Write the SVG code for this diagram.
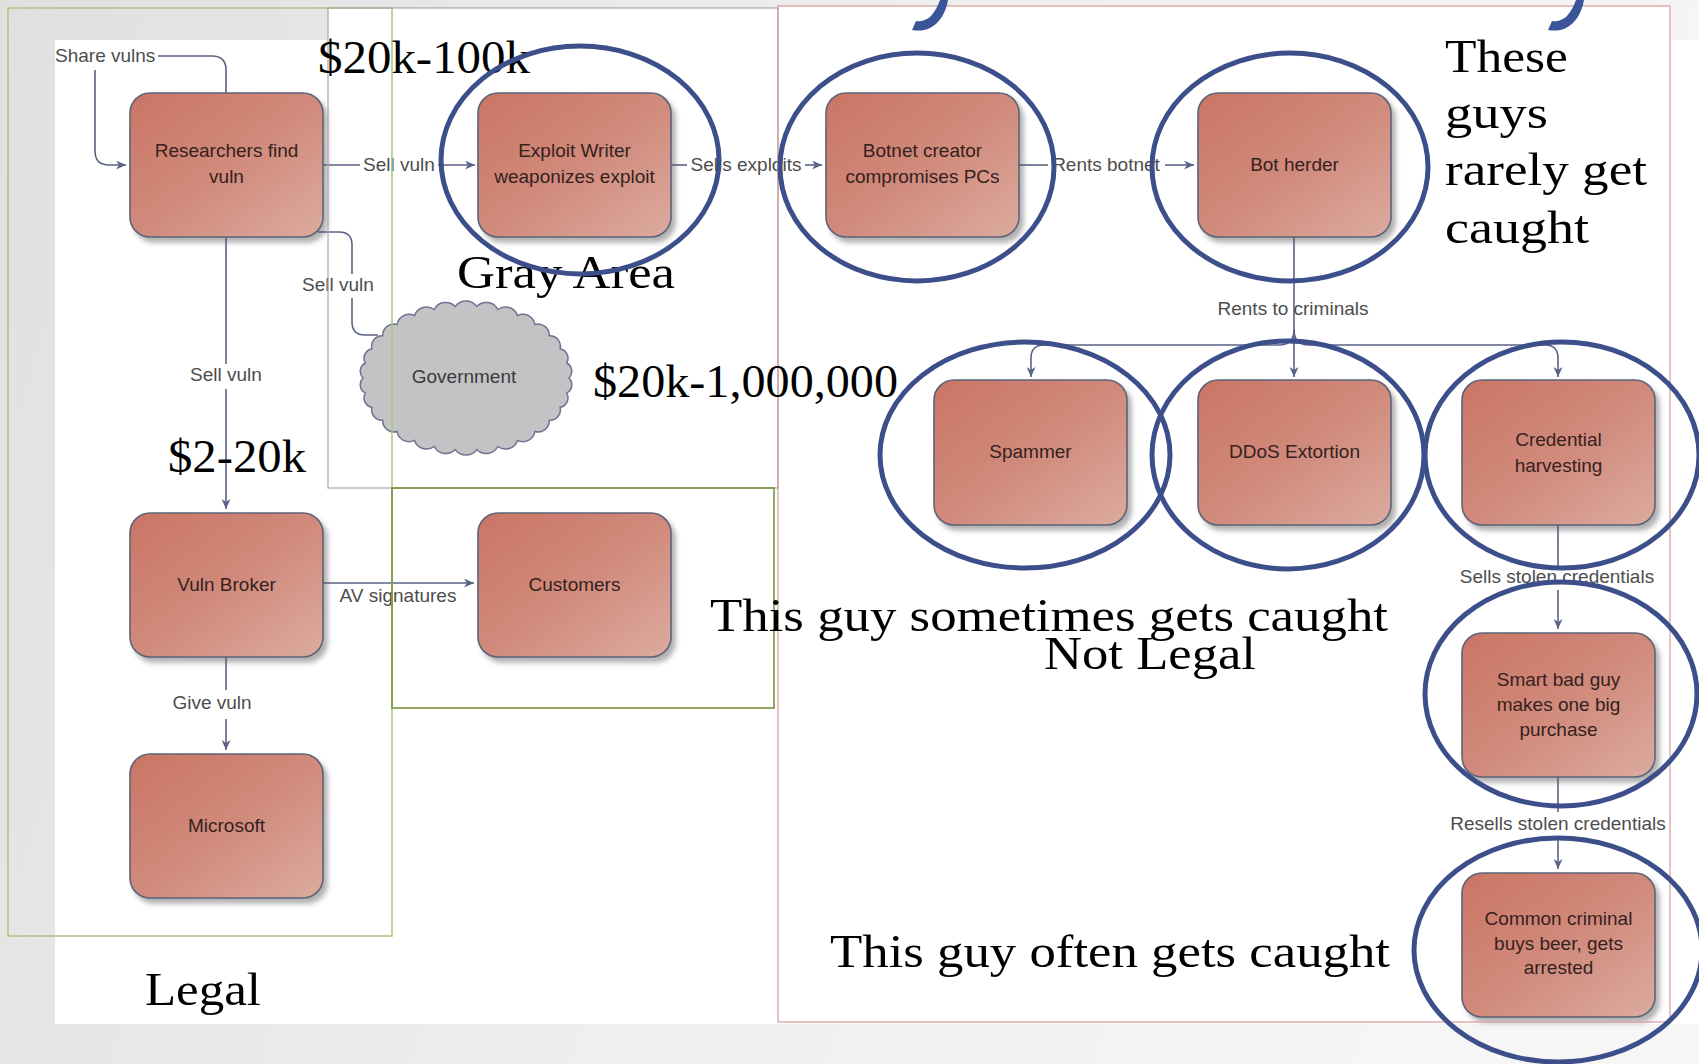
<svg xmlns="http://www.w3.org/2000/svg" width="1699" height="1064" viewBox="0 0 1699 1064">
<defs>
<linearGradient id="bg" x1="0" y1="0" x2="1" y2="0.2">
<stop offset="0" stop-color="#e0e0e0"/>
<stop offset="0.5" stop-color="#eeeeee"/>
<stop offset="1" stop-color="#f6f6f6"/>
</linearGradient>
<linearGradient id="ng" x1="0" y1="0" x2="1" y2="1">
<stop offset="0" stop-color="#ca7564"/>
<stop offset="0.5" stop-color="#d08a7b"/>
<stop offset="1" stop-color="#dcab9f"/>
</linearGradient>
<filter id="sh" x="-10%" y="-10%" width="130%" height="130%">
<feDropShadow dx="4" dy="5" stdDeviation="2.5" flood-color="#555" flood-opacity="0.45"/>
</filter>
<marker id="ar" viewBox="0 0 10 9" refX="10" refY="4.5" markerWidth="10" markerHeight="9" markerUnits="userSpaceOnUse" orient="auto">
<path d="M0,0 L10,4.5 L0,9 L3,4.5 Z" fill="#5b6385"/>
</marker>
<path id="hook" d="M 940 0 L 948 0 C 946 12, 940 23, 930 28 C 924 31, 918 31, 912 30 L 916 21 C 921 22, 927 20, 931 16 C 935 11, 938 6, 940 0 Z"/>
</defs>
<style>
.node rect{fill:url(#ng);stroke:#5e6378;stroke-width:1.6;filter:url(#sh)}
.nt{font-family:"Liberation Sans",Arial,sans-serif;font-size:19px;fill:#36211e;text-anchor:middle}
.el{font-family:"Liberation Sans",Arial,sans-serif;font-size:19px;fill:#4d4d4d}
.c{stroke:#5b6385;stroke-width:1.6;fill:none}
.a{marker-end:url(#ar)}
.big{font-family:"Liberation Serif","Times New Roman",serif;font-size:47px;fill:#000}
.oval{fill:none;stroke:#3d4f8a;stroke-width:5}
.reg{fill:none}
</style>

<rect x="0" y="0" width="1699" height="1064" fill="url(#bg)"/>
<rect x="55" y="40" width="1644" height="984" fill="#fff"/>
<rect x="328" y="8" width="450" height="40" fill="#fff"/>
<rect x="778" y="6" width="892" height="40" fill="#fff"/>

<g id="connectors">
<path class="c" d="M 158 56 H 212 Q 226 56 226 70 V 93"/>
<path class="c a" d="M 95 70 V 151 Q 95 165 109 165 H 126"/>
<text class="el" x="55" y="62">Share vulns</text>

<path class="c" d="M 323 165 H 360"/>
<path class="c a" d="M 438 165 H 475"/>
<text class="el" x="399" y="171" text-anchor="middle">Sell vuln</text>

<path class="c" d="M 670 165 H 687"/>
<path class="c a" d="M 805 165 H 822"/>
<text class="el" x="746" y="171" text-anchor="middle">Sells exploits</text>

<path class="c" d="M 1019 165 H 1048"/>
<path class="c a" d="M 1165 165 H 1194"/>
<text class="el" x="1106" y="171" text-anchor="middle">Rents botnet</text>

<path class="c" d="M 318 232 H 339 Q 352 232 352 245 V 274"/>
<path class="c" d="M 352 298 V 322 Q 352 335 365 335 H 378"/>
<text class="el" x="338" y="291" text-anchor="middle">Sell vuln</text>

<path class="c" d="M 226 237 V 364"/>
<path class="c a" d="M 226 389 V 509"/>
<text class="el" x="226" y="381" text-anchor="middle">Sell vuln</text>

<path class="c" d="M 226 657 V 690"/>
<path class="c a" d="M 226 719 V 750"/>
<text class="el" x="212" y="709" text-anchor="middle">Give vuln</text>

<path class="c a" d="M 322 583 H 474"/>
<text class="el" x="398" y="602" text-anchor="middle">AV signatures</text>

<path class="c a" d="M 1294 237 V 377"/>
<path class="c a" d="M 1294 330 Q 1294 345 1279 345 H 1044 Q 1031 345 1031 358 V 377"/>
<path class="c a" d="M 1294 330 Q 1294 345 1309 345 H 1545 Q 1558 345 1558 358 V 377"/>
<text class="el" x="1293" y="315" text-anchor="middle">Rents to criminals</text>

<path class="c" d="M 1558 525 V 566"/>
<path class="c a" d="M 1558 590 V 629"/>
<text class="el" x="1557" y="583" text-anchor="middle">Sells stolen credentials</text>

<path class="c" d="M 1558 777 V 812"/>
<path class="c a" d="M 1558 836 V 869"/>
<text class="el" x="1558" y="830" text-anchor="middle">Resells stolen credentials</text>
</g>

<g id="n-researchers" class="node"><rect x="130" y="93" width="193" height="144" rx="20"/><text class="nt" x="226.5" y="157">Researchers find<tspan x="226.5" y="183">vuln</tspan></text></g>
<g id="n-exploit" class="node"><rect x="478" y="93" width="193" height="144" rx="20"/><text class="nt" x="574.5" y="157">Exploit Writer<tspan x="574.5" y="183">weaponizes exploit</tspan></text></g>
<g id="n-botnet" class="node"><rect x="826" y="93" width="193" height="144" rx="20"/><text class="nt" x="922.5" y="157">Botnet creator<tspan x="922.5" y="183">compromises PCs</tspan></text></g>
<g id="n-botherder" class="node"><rect x="1198" y="93" width="193" height="144" rx="20"/><text class="nt" x="1294.5" y="171">Bot herder</text></g>
<g id="n-government"><path d="M 569 378 A 9.4 9.4 0 0 1 566.7 393 A 9.7 9.7 0 0 1 560.1 407.3 A 10.5 10.5 0 0 1 549.3 420.3 A 11.3 11.3 0 0 1 534.9 431.5 A 12.1 12.1 0 0 1 517.5 440.4 A 12.8 12.8 0 0 1 497.8 446.5 A 13.1 13.1 0 0 1 476.8 449.6 A 13.4 13.4 0 0 1 455.2 449.6 A 13.1 13.1 0 0 1 434.2 446.5 A 12.8 12.8 0 0 1 414.5 440.4 A 12.1 12.1 0 0 1 397.1 431.5 A 11.3 11.3 0 0 1 382.7 420.3 A 10.5 10.5 0 0 1 371.9 407.3 A 9.7 9.7 0 0 1 365.3 393 A 9.4 9.4 0 0 1 363 378 A 9.4 9.4 0 0 1 365.3 363 A 9.7 9.7 0 0 1 371.9 348.7 A 10.5 10.5 0 0 1 382.7 335.7 A 11.3 11.3 0 0 1 397.1 324.5 A 12.1 12.1 0 0 1 414.5 315.6 A 12.8 12.8 0 0 1 434.2 309.5 A 13.1 13.1 0 0 1 455.2 306.4 A 13.4 13.4 0 0 1 476.8 306.4 A 13.1 13.1 0 0 1 497.8 309.5 A 12.8 12.8 0 0 1 517.5 315.6 A 12.1 12.1 0 0 1 534.9 324.5 A 11.3 11.3 0 0 1 549.3 335.7 A 10.5 10.5 0 0 1 560.1 348.7 A 9.7 9.7 0 0 1 566.7 363 A 9.4 9.4 0 0 1 569 378 Z" fill="#c3c3c6" stroke="#6e7290" stroke-width="1.5"/><text class="nt" x="464" y="383" style="fill:#3a3a3a">Government</text></g>
<g id="n-spammer" class="node"><rect x="934" y="380" width="193" height="145" rx="20"/><text class="nt" x="1030.5" y="458">Spammer</text></g>
<g id="n-ddos" class="node"><rect x="1198" y="380" width="193" height="145" rx="20"/><text class="nt" x="1294.5" y="458">DDoS Extortion</text></g>
<g id="n-cred" class="node"><rect x="1462" y="380" width="193" height="145" rx="20"/><text class="nt" x="1558.5" y="446">Credential<tspan x="1558.5" y="472">harvesting</tspan></text></g>
<g id="n-broker" class="node"><rect x="130" y="513" width="193" height="144" rx="20"/><text class="nt" x="226.5" y="591">Vuln Broker</text></g>
<g id="n-customers" class="node"><rect x="478" y="513" width="193" height="144" rx="20"/><text class="nt" x="574.5" y="591">Customers</text></g>
<g id="n-microsoft" class="node"><rect x="130" y="754" width="193" height="144" rx="20"/><text class="nt" x="226.5" y="832">Microsoft</text></g>
<g id="n-smart" class="node"><rect x="1462" y="633" width="193" height="144" rx="20"/><text class="nt" x="1558.5" y="686">Smart bad guy<tspan x="1558.5" y="711">makes one big</tspan><tspan x="1558.5" y="736">purchase</tspan></text></g>
<g id="n-common" class="node"><rect x="1462" y="873" width="193" height="144" rx="20"/><text class="nt" x="1558.5" y="925">Common criminal<tspan x="1558.5" y="950">buys beer, gets</tspan><tspan x="1558.5" y="974">arrested</tspan></text></g>

<g id="regions">
<rect class="reg" x="8" y="8" width="384" height="928" stroke="#a9c57e" stroke-width="1.5"/>
<rect class="reg" x="328" y="8" width="450" height="480" stroke="#a8a8a8" stroke-width="1.2"/>
<rect class="reg" x="392" y="488" width="382" height="220" stroke="#76923c" stroke-width="1.6"/>
<rect class="reg" x="778" y="6" width="892" height="1016" stroke="#d69c9c" stroke-width="1.2"/>
</g>

<g id="annotations">
<text class="big" x="318" y="73" textLength="212" lengthAdjust="spacingAndGlyphs">$20k-100k</text>
<text class="big" x="457" y="288" font-size="50" textLength="218" lengthAdjust="spacingAndGlyphs">Gray Area</text>
<text class="big" x="593" y="397" textLength="305" lengthAdjust="spacingAndGlyphs">$20k-1,000,000</text>
<text class="big" x="168" y="472" textLength="138" lengthAdjust="spacingAndGlyphs">$2-20k</text>
<text class="big" x="1445" y="72" font-size="51" textLength="123" lengthAdjust="spacingAndGlyphs">These</text>
<text class="big" x="1445" y="128" font-size="51" textLength="103" lengthAdjust="spacingAndGlyphs">guys</text>
<text class="big" x="1445" y="185" font-size="51" textLength="202" lengthAdjust="spacingAndGlyphs">rarely get</text>
<text class="big" x="1445" y="243" font-size="51" textLength="144" lengthAdjust="spacingAndGlyphs">caught</text>
<text class="big" x="710" y="631" textLength="678" lengthAdjust="spacingAndGlyphs">This guy sometimes gets caught</text>
<text class="big" x="1044" y="669" textLength="212" lengthAdjust="spacingAndGlyphs">Not Legal</text>
<text class="big" x="830" y="967" textLength="560" lengthAdjust="spacingAndGlyphs">This guy often gets caught</text>
<text class="big" x="145" y="1005" textLength="116" lengthAdjust="spacingAndGlyphs">Legal</text>
</g>

<g id="ovals">
<ellipse class="oval" cx="580" cy="160" rx="139" ry="114"/>
<ellipse class="oval" cx="917" cy="167" rx="137" ry="114"/>
<ellipse class="oval" cx="1290" cy="167" rx="138" ry="114"/>
<ellipse class="oval" cx="1025" cy="455" rx="145" ry="113"/>
<ellipse class="oval" cx="1288" cy="455" rx="136" ry="114"/>
<ellipse class="oval" cx="1562" cy="455" rx="137" ry="113"/>
<ellipse class="oval" cx="1561" cy="694" rx="136" ry="112"/>
<ellipse class="oval" cx="1558" cy="950" rx="144" ry="112"/>
<use href="#hook" fill="#3a5597"/>
<use href="#hook" fill="#3a5597" transform="translate(636 0)"/>
</g>
</svg>
